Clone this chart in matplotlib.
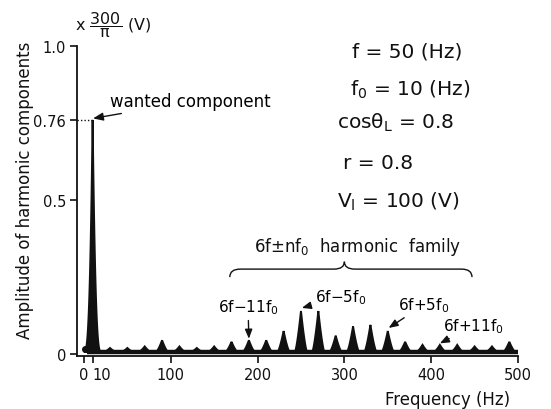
import matplotlib
matplotlib.use("Agg")
import matplotlib.pyplot as plt
import matplotlib.patches as mpatches
from matplotlib.path import Path
import numpy as np

plt.rcParams.update({
    "font.family": "DejaVu Sans",
    "mathtext.fontset": "dejavusans",
    "mathtext.default": "regular",
})

# ---------- data ----------
wanted_freq = 10
wanted_amp = 0.76
dc_freq = 1
dc_amp = 0.018
baseline_amp = 0.007

peak_freqs = [30, 50, 70, 90, 110, 130, 150, 170, 190, 210, 230, 250,
              270, 290, 310, 330, 350, 370, 390, 410, 430, 450, 470, 490]
peak_amps = [0.02, 0.02, 0.025, 0.045, 0.025, 0.02, 0.025, 0.04, 0.045,
             0.045, 0.075, 0.14, 0.14, 0.06, 0.09, 0.095, 0.075, 0.04,
             0.03, 0.03, 0.03, 0.025, 0.025, 0.04]

x_ticks = [0, 10, 100, 200, 300, 400, 500]
x_tick_labels = ["0", "10", "100", "200", "300", "400", "500"]
y_ticks = [0, 0.5, 0.76, 1.0]
y_tick_labels = ["0", "0.5", "0.76", "1.0"]

params = [
    (309, 0.985, "f = 50 (Hz)"),
    (306, 0.862, r"f$_0$ = 10 (Hz)"),
    (291, 0.753, r"cos$\theta_L$ = 0.8"),
    (298, 0.623, "r = 0.8"),
    (292, 0.497, r"V$_l$ = 100 (V)"),
]

INK = "#111111"


def draw_peak(ax, freq, amp, half_width, power):
    t = np.linspace(-1, 1, 61)
    xs = freq + half_width * t
    ys = baseline_amp + (amp - baseline_amp) * (1 - np.abs(t)) ** power
    ax.fill(xs, ys, color=INK, lw=1.4, edgecolor=INK, zorder=3)


def draw_brace(ax, x0, x1, xm, y, y_end, y_tip):
    verts = [
        (x0, y_end), (x0, y), (x0 + 12, y),
        (xm - 12, y),
        (xm, y), (xm, y_tip),
        (xm, y), (xm + 12, y),
        (x1 - 12, y),
        (x1, y), (x1, y_end),
    ]
    codes = [Path.MOVETO, Path.CURVE3, Path.CURVE3,
             Path.LINETO,
             Path.CURVE3, Path.CURVE3,
             Path.CURVE3, Path.CURVE3,
             Path.LINETO,
             Path.CURVE3, Path.CURVE3]
    patch = mpatches.PathPatch(Path(verts, codes), fill=False, lw=1.0,
                               edgecolor=INK, clip_on=False)
    ax.add_patch(patch)


fig = plt.figure(figsize=(5.51, 4.10), dpi=100)
ax = fig.add_axes([77 / 551, 53 / 410, 441 / 551, 310 / 410])

ax.set_xlim(-8, 500)
ax.set_ylim(-0.006, 1.0)

# ---------- spectrum ----------
ax.plot([4, 500], [baseline_amp, baseline_amp], color=INK, lw=3.2,
        solid_capstyle="butt", zorder=3)
draw_peak(ax, wanted_freq, wanted_amp, 10, 3.0)
for f, a in zip(peak_freqs, peak_amps):
    draw_peak(ax, f, a, 7, 1.4)
ax.plot(dc_freq, dc_amp, "o", color=INK, ms=4, zorder=3)

ax.plot([-8, wanted_freq], [wanted_amp, wanted_amp], ls=(0, (1, 1.5)),
        color=INK, lw=1.0)

# ---------- axes ----------
for side in ("top", "right"):
    ax.spines[side].set_visible(False)
for side in ("left", "bottom"):
    ax.spines[side].set_linewidth(1.3)
    ax.spines[side].set_color(INK)

ax.set_xticks(x_ticks)
ax.set_xticklabels(x_tick_labels)
ax.set_yticks(y_ticks)
ax.set_yticklabels(y_tick_labels)
ax.tick_params(direction="out", length=5, width=1.2, colors=INK,
               labelsize=10.5, pad=3)
ax.get_xticklabels()[1].set_ha("left")

fig.text(75 / 551, 1 - 25 / 410, r"x $\dfrac{300}{\pi}$ (V)",
         fontsize=11.5, va="center", ha="left", color=INK)
fig.text(25 / 551, 1 - 190 / 410, "Amplitude of harmonic components",
         rotation=90, fontsize=12, ha="center", va="center", color=INK)
fig.text(448 / 551, 1 - 400 / 410, "Frequency (Hz)", fontsize=12,
         ha="center", va="center", color=INK)

# ---------- annotations ----------
arrow = dict(arrowstyle="-|>,head_length=0.5,head_width=0.2", color=INK,
             lw=1.0, shrinkA=1, shrinkB=0)
ax.annotate("wanted component", xy=(wanted_freq + 0.5, 0.765),
            xytext=(30, 0.82), fontsize=12, ha="left", va="center",
            arrowprops=arrow)
ax.annotate(r"6f$-$11f$_0$", xy=(190, 0.05), xytext=(189, 0.153),
            fontsize=11, ha="center", va="center", arrowprops=arrow)
ax.annotate(r"6f$-$5f$_0$", xy=(251, 0.15), xytext=(266, 0.185),
            fontsize=11, ha="left", va="center", arrowprops=arrow)
ax.annotate(r"6f$+$5f$_0$", xy=(351, 0.085), xytext=(362, 0.16),
            fontsize=11, ha="left", va="center", arrowprops=arrow)
ax.annotate(r"6f$+$11f$_0$", xy=(410, 0.035), xytext=(414, 0.092),
            fontsize=11, ha="left", va="center", arrowprops=arrow)

ax.text(315, 0.352, r"6f$\pm$nf$_0$  harmonic  family", fontsize=12,
        ha="center", va="center", color=INK)
draw_brace(ax, 168, 447, 300, 0.276, 0.25, 0.30)

for x, y, s in params:
    ax.text(x, y, s, fontsize=14.5, ha="left", va="center", color=INK)

fig.savefig("out.png", dpi=100, facecolor="white")
